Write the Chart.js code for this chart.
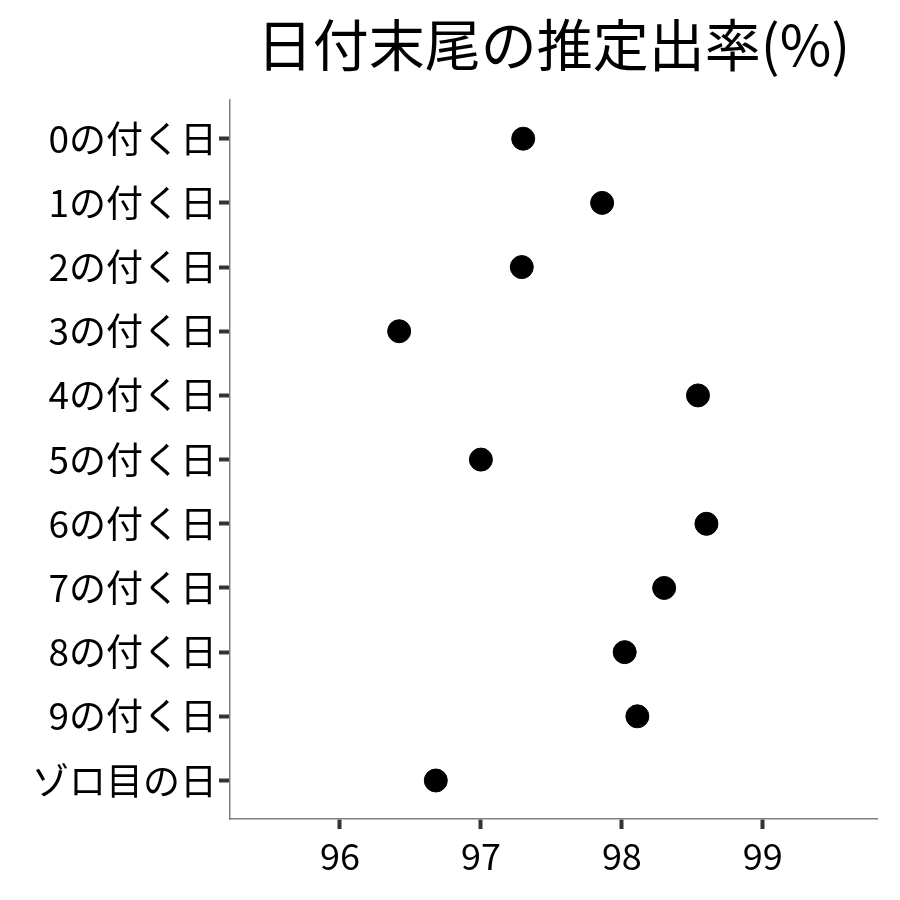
<!DOCTYPE html>
<html lang="ja">
<head>
    <meta charset="UTF-8">
    <title>日付末尾の推定出率</title>
    <script src="https://cdn.jsdelivr.net/npm/chart.js@4/dist/chart.umd.min.js"></script>
    <style>
        html, body { margin: 0; padding: 0; background: #ffffff; }
        #wrap { width: 900px; height: 900px; }
    </style>
</head>
<body>
    <div id="wrap"><canvas id="dotChart" width="900" height="900"></canvas></div>

    <script>
        // Categories (top to bottom) and estimated rates
        const categories = ['0の付く日', '1の付く日', '2の付く日', '3の付く日', '4の付く日',
            '5の付く日', '6の付く日', '7の付く日', '8の付く日', '9の付く日', 'ゾロ目の日'];
        const rates = [97.30, 97.86, 97.29, 96.42, 98.54, 97.00, 98.60, 98.30, 98.02, 98.11, 96.68];
        const xTicks = [96, 97, 98, 99];

        const fontFamily = "'Noto Sans CJK JP', 'Noto Sans', sans-serif";

        const points = rates.map((v, i) => ({ x: v, y: i }));

        new Chart(document.getElementById('dotChart'), {
            type: 'scatter',
            data: {
                datasets: [{
                    data: points,
                    backgroundColor: '#000000',
                    borderColor: '#000000',
                    pointRadius: 11.5,
                    pointHoverRadius: 11.5
                }]
            },
            options: {
                responsive: false,
                animation: false,
                layout: { padding: { left: 0, right: 23, top: 0, bottom: 0 } },
                plugins: {
                    legend: { display: false },
                    tooltip: { enabled: false },
                    title: {
                        display: true,
                        fullSize: false,
                        text: '日付末尾の推定出率(%)',
                        color: '#000000',
                        font: { family: fontFamily, size: 56, weight: 'normal' },
                        padding: { top: 11, bottom: 22 }
                    }
                },
                scales: {
                    x: {
                        type: 'linear',
                        min: 95.22,
                        max: 99.81,
                        afterBuildTicks: scale => { scale.ticks = xTicks.map(v => ({ value: v })); },
                        afterFit: scale => { scale.height = 81; },
                        grid: {
                            drawOnChartArea: false,
                            drawTicks: true,
                            tickLength: 10,
                            tickWidth: 4,
                            tickColor: '#333333'
                        },
                        border: { display: true, color: '#808080', width: 1.5 },
                        ticks: {
                            color: '#000000',
                            padding: 6,
                            maxRotation: 0,
                            font: { family: fontFamily, size: 36 },
                            callback: v => String(v)
                        }
                    },
                    y: {
                        type: 'linear',
                        reverse: true,
                        min: -0.6,
                        max: 10.6,
                        afterBuildTicks: scale => { scale.ticks = categories.map((c, i) => ({ value: i })); },
                        afterFit: scale => { scale.width = 230; },
                        grid: {
                            drawOnChartArea: false,
                            drawTicks: true,
                            tickLength: 11,
                            tickWidth: 4,
                            tickColor: '#333333'
                        },
                        border: { display: true, color: '#808080', width: 1.5 },
                        ticks: {
                            color: '#000000',
                            padding: 2,
                            font: { family: fontFamily, size: 37 },
                            callback: v => categories[v]
                        }
                    }
                }
            }
        });
    </script>
</body>
</html>
